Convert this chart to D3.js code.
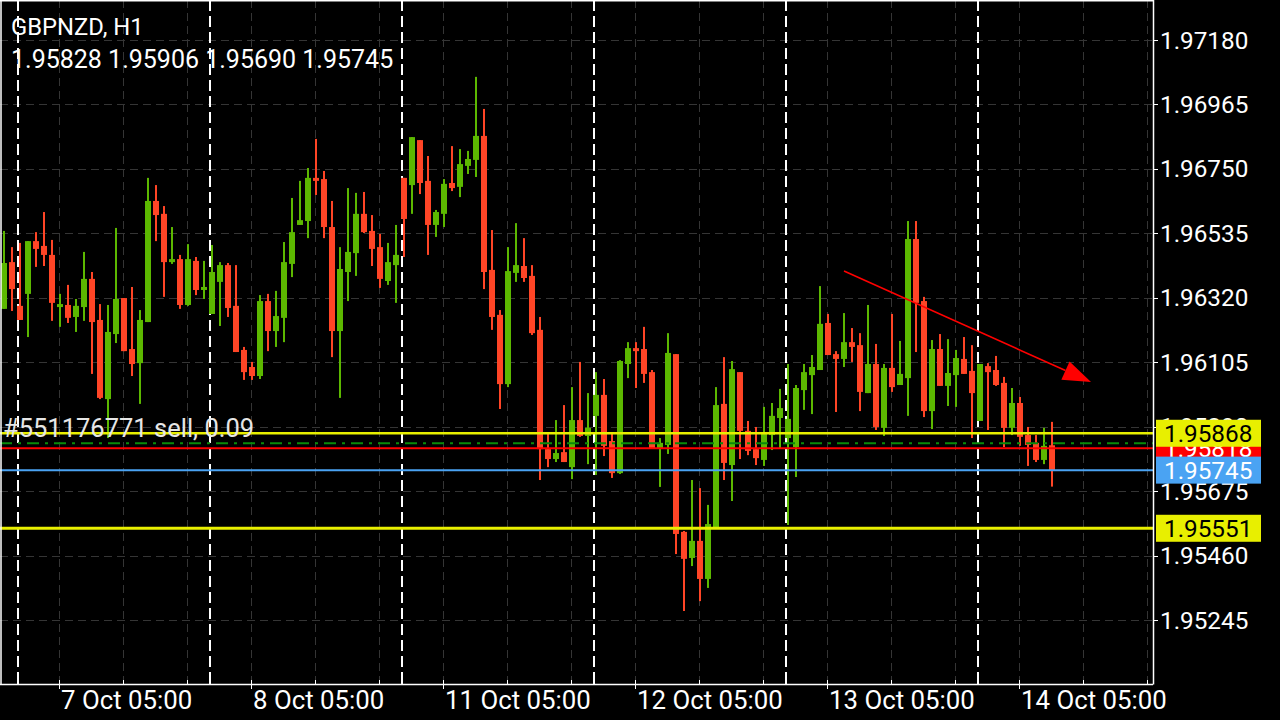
<!DOCTYPE html>
<html><head><meta charset="utf-8">
<script src="https://cdn.jsdelivr.net/npm/d3@7"></script>
<style>html,body{margin:0;padding:0;background:#000;overflow:hidden}</style>
</head><body><svg id="c" width="1280" height="720"></svg>
<script>
const titleLine = "GBPNZD, H1";
const lastBar = "1.95828 1.95906 1.95690 1.95745";
const opens = [1.96283,1.96439,1.96293,1.96333,1.96509,1.96493,1.96463,1.96289,1.96296,1.96256,1.96289,1.96383,1.96246,1.95982,1.96199,1.96319,1.96149,1.96102,1.96239,1.96643,1.96600,1.96439,1.96449,1.96296,1.96443,1.96346,1.96266,1.96373,1.96429,1.96293,1.96146,1.96089,1.96059,1.96309,1.96209,1.96253,1.96433,1.96563,1.96576,1.96720,1.96716,1.96556,1.96209,1.96406,1.96469,1.96600,1.96543,1.96489,1.96376,1.96429,1.96720,1.96696,1.96846,1.96710,1.96563,1.96600,1.96703,1.96690,1.96760,1.96780,1.96860,1.96413,1.96263,1.96032,1.96403,1.96426,1.96393,1.96213,1.95815,1.95782,1.95805,1.95755,1.95912,1.95859,1.95926,1.95996,1.95842,1.95735,1.96099,1.96152,1.96149,1.96072,1.95819,1.95829,1.96132,1.95539,1.95452,1.95509,1.95382,1.95555,1.95966,1.95762,1.96072,1.95876,1.95815,1.95779,1.95862,1.95919,1.95852,1.95822,1.96012,1.96062,1.96079,1.96236,1.96132,1.96116,1.96172,1.96162,1.96002,1.96099,1.95886,1.96086,1.96029,1.96052,1.96516,1.96309,1.95942,1.96149,1.96026,1.96062,1.96116,1.96076,1.95909,1.96092,1.96079,1.96036,1.95886,1.95969,1.95862,1.95836,1.95779,1.95828];
const highs = [1.96543,1.96489,1.96503,1.96509,1.96539,1.96606,1.96513,1.96333,1.96363,1.96316,1.96473,1.96406,1.96299,1.96296,1.96553,1.96319,1.96356,1.96279,1.96720,1.96696,1.96626,1.96556,1.96463,1.96499,1.96456,1.96443,1.96496,1.96439,1.96436,1.96429,1.96156,1.96106,1.96329,1.96333,1.96343,1.96506,1.96653,1.96710,1.96753,1.96850,1.96743,1.96643,1.96489,1.96686,1.96670,1.96673,1.96596,1.96533,1.96503,1.96563,1.96720,1.96856,1.96846,1.96793,1.96613,1.96716,1.96826,1.96816,1.96810,1.97057,1.96950,1.96546,1.96279,1.96489,1.96569,1.96519,1.96429,1.96256,1.95869,1.95912,1.95962,1.96022,1.96106,1.96002,1.96072,1.96049,1.95866,1.96112,1.96172,1.96172,1.96223,1.96079,1.95852,1.96202,1.96132,1.95542,1.95712,1.95685,1.95629,1.96022,1.96122,1.96109,1.96072,1.95909,1.95889,1.95956,1.95969,1.96016,1.96099,1.96029,1.96099,1.96129,1.96359,1.96266,1.96142,1.96269,1.96219,1.96202,1.96296,1.96166,1.96099,1.96266,1.96176,1.96576,1.96576,1.96323,1.96179,1.96199,1.96182,1.96146,1.96189,1.96162,1.96099,1.96102,1.96126,1.96056,1.96019,1.95989,1.95889,1.95862,1.95886,1.95906];
const lows = [1.96283,1.96276,1.96246,1.96189,1.96423,1.96426,1.96243,1.96223,1.96236,1.96206,1.96243,1.96066,1.95982,1.95852,1.96169,1.96142,1.96059,1.95966,1.96239,1.96509,1.96323,1.96433,1.96283,1.96293,1.96329,1.96316,1.96266,1.96226,1.96256,1.96139,1.96046,1.96046,1.96049,1.96142,1.96156,1.96172,1.96389,1.96563,1.96519,1.96663,1.96519,1.96122,1.95986,1.96309,1.96393,1.96536,1.96426,1.96353,1.96363,1.96303,1.96456,1.96600,1.96666,1.96463,1.96523,1.96556,1.96676,1.96656,1.96733,1.96723,1.96349,1.96213,1.95949,1.96022,1.96373,1.96373,1.96196,1.95712,1.95755,1.95772,1.95772,1.95715,1.95856,1.95765,1.95729,1.95792,1.95719,1.95732,1.96052,1.96019,1.96036,1.95819,1.95689,1.95799,1.95465,1.95275,1.95425,1.95308,1.95352,1.95555,1.95712,1.95642,1.95782,1.95795,1.95762,1.95759,1.95812,1.95819,1.95562,1.95722,1.95946,1.95932,1.96079,1.96129,1.95939,1.96089,1.96106,1.95942,1.96002,1.95879,1.95859,1.96006,1.96029,1.95926,1.96139,1.95922,1.95882,1.96026,1.95959,1.95956,1.96066,1.95852,1.95909,1.95879,1.96026,1.95822,1.95862,1.95826,1.95759,1.95772,1.95765,1.95690];
const closes = [1.96436,1.96349,1.96246,1.96509,1.96483,1.96463,1.96303,1.96299,1.96253,1.96293,1.96383,1.96239,1.95986,1.96206,1.96316,1.96142,1.96099,1.96246,1.96643,1.96596,1.96439,1.96449,1.96296,1.96449,1.96346,1.96356,1.96406,1.96429,1.96286,1.96139,1.96072,1.96059,1.96309,1.96209,1.96259,1.96439,1.96539,1.96579,1.96720,1.96710,1.96556,1.96209,1.96416,1.96473,1.96600,1.96539,1.96483,1.96383,1.96439,1.96463,1.96583,1.96856,1.96703,1.96563,1.96606,1.96700,1.96686,1.96766,1.96783,1.96860,1.96406,1.96256,1.96032,1.96409,1.96429,1.96386,1.96202,1.95815,1.95782,1.95802,1.95772,1.95912,1.95859,1.95886,1.95996,1.95826,1.95735,1.96109,1.96152,1.96142,1.96066,1.95819,1.95836,1.96136,1.95532,1.95449,1.95509,1.95382,1.95565,1.95962,1.95769,1.96082,1.95876,1.95809,1.95785,1.95869,1.95926,1.95952,1.95916,1.96019,1.96072,1.96089,1.96233,1.96129,1.96116,1.96172,1.96156,1.96006,1.96099,1.95889,1.96086,1.96022,1.96066,1.96516,1.96303,1.95942,1.96149,1.96026,1.96069,1.96119,1.96066,1.96002,1.96099,1.96072,1.96029,1.95886,1.95969,1.95856,1.95829,1.95779,1.95826,1.95745];

const priceTicks = [1.97180,1.96965,1.96750,1.96535,1.96320,1.96105,1.95890,1.95675,1.95460,1.95245];
const dayStartIdx = [2,26,50,74,98,122];
const timeLabelIdx = [7,31,55,79,103,127];
const timeLabels = ["7 Oct 05:00","8 Oct 05:00","11 Oct 05:00","12 Oct 05:00","13 Oct 05:00","14 Oct 05:00"];
const orderText = "#551176771 sell, 0.09";
const orderPrice = 1.95835;
const levelPrices = [1.95818, 1.95745, 1.95868, 1.95551];
const levelKinds = ["red","blue","yellow","yellow"];
const arrowFrom = [105, 1.96409];
const arrowTo = [135.875, 1.96039];

const svg = d3.select("#c");
const plotR = 1153, plotB = 684;
const FONT = "Roboto, 'Noto Sans', sans-serif";
const x = d3.scaleLinear().domain([-0.5, 143.625]).range([0, plotR]);
const y = d3.scaleLinear().domain([1.95245, 1.97180]).range([620, 40]);
const GREEN = "#5cb800", RED = "#ff4526";
const levelColor = {red:"#ff0000", blue:"#4aa3f3", yellow:"#e8ef00"};
const levelWidth = {red:2, blue:2, yellow:2.5};

svg.append("rect").attr("width",1280).attr("height",720).attr("fill","#000");
const plot = svg.append("g");

// horizontal grid
plot.selectAll(".hg").data(priceTicks).join("line")
  .attr("x1",0).attr("x2",plotR)
  .attr("y1",d=>Math.round(y(d))+0.5).attr("y2",d=>Math.round(y(d))+0.5)
  .attr("stroke","#353535").attr("stroke-width",1).attr("stroke-dasharray","8,5");
// vertical grid
const vgrid = d3.range(-1, 144, 8);
plot.selectAll(".vg").data(vgrid).join("line")
  .attr("x1",d=>Math.round(x(d))-0.5).attr("x2",d=>Math.round(x(d))-0.5)
  .attr("y1",0).attr("y2",plotB)
  .attr("stroke","#353535").attr("stroke-width",1).attr("stroke-dasharray","8,5");
// day separators
plot.selectAll(".ds").data(dayStartIdx).join("line")
  .attr("x1",d=>x(d)-2).attr("x2",d=>x(d)-2)
  .attr("y1",0).attr("y2",plotB)
  .attr("stroke","#fff").attr("stroke-width",2).attr("stroke-dasharray","11,5");

// candles
const idx = d3.range(opens.length);
const col = i => closes[i] >= opens[i] ? GREEN : RED;
plot.selectAll(".wick").data(idx).join("rect")
  .attr("x",i=>x(i)-1).attr("width",2)
  .attr("y",i=>y(highs[i])).attr("height",i=>Math.max(1,y(lows[i])-y(highs[i])))
  .attr("fill",col);
plot.selectAll(".body").data(idx).join("rect")
  .attr("x",i=>x(i)-3).attr("width",6)
  .attr("y",i=>y(Math.max(opens[i],closes[i])))
  .attr("height",i=>Math.max(2,Math.abs(y(opens[i])-y(closes[i]))))
  .attr("fill",col);

// order line (dash-dot)
plot.append("line").attr("x1",0).attr("x2",plotR)
  .attr("y1",y(orderPrice)).attr("y2",y(orderPrice))
  .attr("stroke","#0a8a0a").attr("stroke-width",2).attr("stroke-dasharray","12,6,3,6");
// level lines
levelPrices.forEach((p,k)=>{
  plot.append("line").attr("x1",0).attr("x2",plotR)
    .attr("y1",y(p)).attr("y2",y(p))
    .attr("stroke",levelColor[levelKinds[k]])
    .attr("stroke-width", k===3 ? 3 : levelWidth[levelKinds[k]]);
});
plot.append("text").attr("x",3).attr("y",437).text(orderText)
  .attr("fill","#e6e6e6").attr("font-family",FONT).attr("font-size",25.5);

// trend arrow
const ax1=x(arrowFrom[0]), ay1=y(arrowFrom[1]), ax2=x(arrowTo[0]), ay2=y(arrowTo[1]);
const len=Math.hypot(ax2-ax1, ay2-ay1), ux=(ax2-ax1)/len, uy=(ay2-ay1)/len;
const bx=ax2-28*ux, by=ay2-28*uy;
plot.append("line").attr("x1",ax1).attr("y1",ay1).attr("x2",bx).attr("y2",by)
  .attr("stroke","#ff0000").attr("stroke-width",1.6);
plot.append("path").attr("d",`M${ax2},${ay2}L${bx-10*uy},${by+10*ux}L${bx+10*uy},${by-10*ux}Z`)
  .attr("fill","#ff0000");

// frame
svg.append("line").attr("x1",1).attr("x2",1).attr("y1",0).attr("y2",plotB).attr("stroke","#fff").attr("stroke-width",1.5);
svg.append("line").attr("x1",0).attr("x2",plotR).attr("y1",0.75).attr("y2",0.75).attr("stroke","#fff").attr("stroke-width",1.5);
svg.append("line").attr("x1",plotR+0.5).attr("x2",plotR+0.5).attr("y1",0).attr("y2",plotB+0.5).attr("stroke","#fff").attr("stroke-width",1.5);
svg.append("line").attr("x1",0).attr("x2",plotR).attr("y1",plotB+0.5).attr("y2",plotB+0.5).attr("stroke","#fff").attr("stroke-width",1.5);

// right axis ticks and labels
svg.selectAll(".rt").data(priceTicks).join("line")
  .attr("x1",plotR).attr("x2",plotR+5)
  .attr("y1",d=>Math.round(y(d))+0.5).attr("y2",d=>Math.round(y(d))+0.5)
  .attr("stroke","#fff");
svg.selectAll(".rl").data(priceTicks).join("text")
  .attr("x",1160).attr("y",d=>y(d)+8.5).text(d=>d.toFixed(5))
  .attr("fill","#fff").attr("font-family",FONT).attr("font-size",24.3);

// price label boxes
const boxFill = {red:"#ff0000", blue:"#4aa3f3", yellow:"#e8ef00"};
const boxText = {red:"#fff", blue:"#fff", yellow:"#000"};
levelPrices.forEach((p,k)=>{
  const kind = levelKinds[k];
  const g = svg.append("g");
  g.append("rect").attr("x",1156).attr("width",105).attr("y",y(p)-13.5).attr("height",27).attr("fill",boxFill[kind]);
  g.append("text").attr("x",1164).attr("y",y(p)+8.5).text(p.toFixed(5))
    .attr("fill",boxText[kind]).attr("font-family",FONT).attr("font-size",24.3);
});

// bottom axis ticks and labels
svg.selectAll(".bt").data(vgrid.filter(d=>d>=0)).join("line")
  .attr("x1",d=>Math.round(x(d))-0.5).attr("x2",d=>Math.round(x(d))-0.5)
  .attr("y1",plotB-4).attr("y2",plotB).attr("stroke","#fff");
svg.selectAll(".bd").data(dayStartIdx).join("line")
  .attr("x1",d=>x(d)-2).attr("x2",d=>x(d)-2)
  .attr("y1",plotB-9).attr("y2",plotB).attr("stroke","#fff").attr("stroke-width",2);
svg.selectAll(".bl").data(timeLabelIdx).join("line")
  .attr("x1",d=>Math.round(x(d))-0.5).attr("x2",d=>Math.round(x(d))-0.5)
  .attr("y1",plotB).attr("y2",plotB+5).attr("stroke","#fff");
svg.selectAll(".btx").data(timeLabelIdx).join("text")
  .attr("x",d=>x(d)+1).attr("y",709).text((d,k)=>timeLabels[k])
  .attr("fill","#fff").attr("font-family",FONT).attr("font-size",25.8);

// title
svg.append("text").attr("x",11).attr("y",35).text(titleLine)
  .attr("fill","#fff").attr("font-family",FONT).attr("font-size",23.8);
svg.append("text").attr("x",11).attr("y",68).text(lastBar)
  .attr("fill","#fff").attr("font-family",FONT).attr("font-size",25);
</script></body></html>
